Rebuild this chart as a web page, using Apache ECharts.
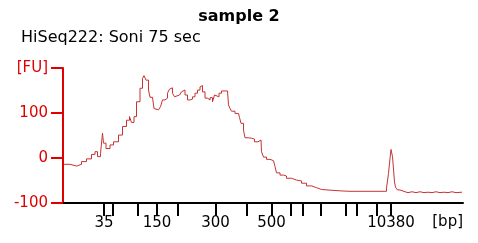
<!DOCTYPE html>
<html>
<head>
<meta charset="utf-8">
<script src="https://cdn.jsdelivr.net/npm/echarts@6/dist/echarts.min.js"></script>
<style>
html,body{margin:0;padding:0;background:#fff;}
#chart{width:478px;height:243px;}
</style>
</head>
<body>
<div id="chart"></div>
<script>
// Migration time (s) of each ladder peak and its size in bp
const ladderTimes = [48.2, 49.9, 54.9, 58.8, 62.9, 70.5, 76.8, 81.7, 85.6, 87.9, 91.5, 96.5, 98.8, 102.8, 105.6];
const ladderSizes = [35, 50, 100, 150, 200, 300, 400, 500, 600, 700, 1000, 2000, 3000, 7000, 10380];
const labelledSizes = [35, 150, 300, 500, 10380];
const yTicks = [-100, 0, 100, 200];

// Electropherogram trace: migration time (s) and fluorescence (FU)
const traceTime = [40.2, 41.4, 42.7, 43.7, 44.7, 45.7, 46.4, 46.9, 47.5, 47.9, 48.1, 48.6, 49.4, 50.1, 51.1, 51.9, 52.7, 53.3, 53.7, 54.2,
  54.7, 55.4, 55.9, 56.2, 56.6, 57.1,
  57.4, 57.9, 58.2, 58.6, 59.1, 59.5, 59.9, 60.4, 60.9, 61.3, 61.6, 61.9, 62.3, 62.7, 63.3, 63.7, 64.1, 64.4, 64.9, 65.4,
  65.9, 66.4, 66.9, 67.4, 67.6, 67.9, 68.4, 68.9, 69.4, 69.9, 70.3, 70.7, 71.2, 71.7, 72.4, 72.9, 73.1, 73.4, 73.7, 74.4,
  75.1, 75.3,
  75.6, 76.1, 76.4, 77.1, 77.7, 78.3, 79.0, 79.6, 79.7, 80.1, 80.7, 81.4, 82.1, 82.4, 82.7, 83.4, 84.1, 84.7, 85.7, 86.7,
  87.7, 88.7, 89.7, 90.7, 91.7, 95.4, 97.4, 97.8, 99.4, 103.4, 104.7, 105.1, 105.4, 105.6, 105.9, 106.1, 106.3, 106.5, 106.9, 107.4,
  108.4, 109.0, 109.8, 110.6, 111.4, 112.2, 113.0, 113.8, 114.6, 115.4, 116.2, 117.0, 117.8, 118.6, 119.8];
const traceFU = [-14, -18, -14, -8, -2, 8, 14, 3, 10, 55, 33, 21, 29, 36, 51, 70, 84, 92, 79, 92,
  125, 155, 177, 183, 173, 151,
  135, 135, 110, 107, 110, 114, 129, 133, 144, 153, 156, 144, 136, 140, 144, 147, 151, 140, 129, 131,
  136, 144, 151, 158, 161, 147, 133, 129, 134, 125, 140, 136, 144, 149, 149, 147, 118, 110, 104, 99,
  97, 90,
  77, 62, 45, 44, 42, 36, 40, 36, 14, 2, -3, -6, -8, -19, -33, -38, -40, -45, -49, -51,
  -56, -62, -66, -70, -73, -74, -77, -74, -74, -74, -67, -34, -1, 19, 3, 3, -53, -65, -71, -75,
  -77, -75, -77, -75, -77, -76, -77, -75, -77, -76, -77, -75, -77, -76, -76];

const sizeAt = {};
ladderTimes.forEach((t, i) => { sizeAt[t] = ladderSizes[i]; });
const labelTimes = labelledSizes.map(s => ladderTimes[ladderSizes.indexOf(s)]);
const traceData = traceTime.map((t, i) => [t, traceFU[i]]);

const FONT = 'DejaVu Sans';
const chart = echarts.init(document.getElementById('chart'), null, {renderer: 'canvas'});
chart.setOption({
  animation: false,
  backgroundColor: '#ffffff',
  title: [
    {text: 'sample 2', left: 'center', top: 9, padding: 0,
     textStyle: {fontFamily: FONT, fontSize: 16, fontWeight: 'bold', color: '#000'}},
    {text: 'HiSeq222: Soni 75 sec', left: 21, top: 30, padding: 0,
     textStyle: {fontFamily: FONT, fontSize: 16, fontWeight: 'normal', color: '#000'}}
  ],
  grid: {left: 63, right: 15, top: 68, bottom: 40, containLabel: false},
  xAxis: {
    type: 'value', min: 40, max: 120,
    axisLine: {show: true, onZero: false, lineStyle: {color: '#000', width: 2}},
    axisTick: {show: true, inside: false, length: 13, customValues: ladderTimes, lineStyle: {color: '#000', width: 2}},
    axisLabel: {show: true, customValues: labelTimes, margin: 13, fontFamily: FONT, fontSize: 15, color: '#000',
      formatter: v => String(sizeAt[v] !== undefined ? sizeAt[v] : '')},
    splitLine: {show: false}
  },
  yAxis: {
    type: 'value', min: -100, max: 200, interval: 100,
    axisLine: {show: true, lineStyle: {color: '#e00000', width: 2}},
    axisTick: {show: true, length: 12, lineStyle: {color: '#e00000', width: 2}},
    axisLabel: {show: true, margin: 15, fontFamily: FONT, fontSize: 15, color: '#e00000',
      formatter: v => (v === yTicks[yTicks.length - 1] ? '[FU]' : String(v))},
    splitLine: {show: false}
  },
  graphic: [
    {type: 'text', right: 15, top: 215,
     style: {text: '[bp]', fontFamily: FONT, fontSize: 15, fill: '#000'}}
  ],
  series: [{
    type: 'line', data: traceData, step: 'end', showSymbol: false, symbol: 'none',
    lineStyle: {color: '#c83232', width: 1}, z: 1
  }]
});
</script>
</body>
</html>
